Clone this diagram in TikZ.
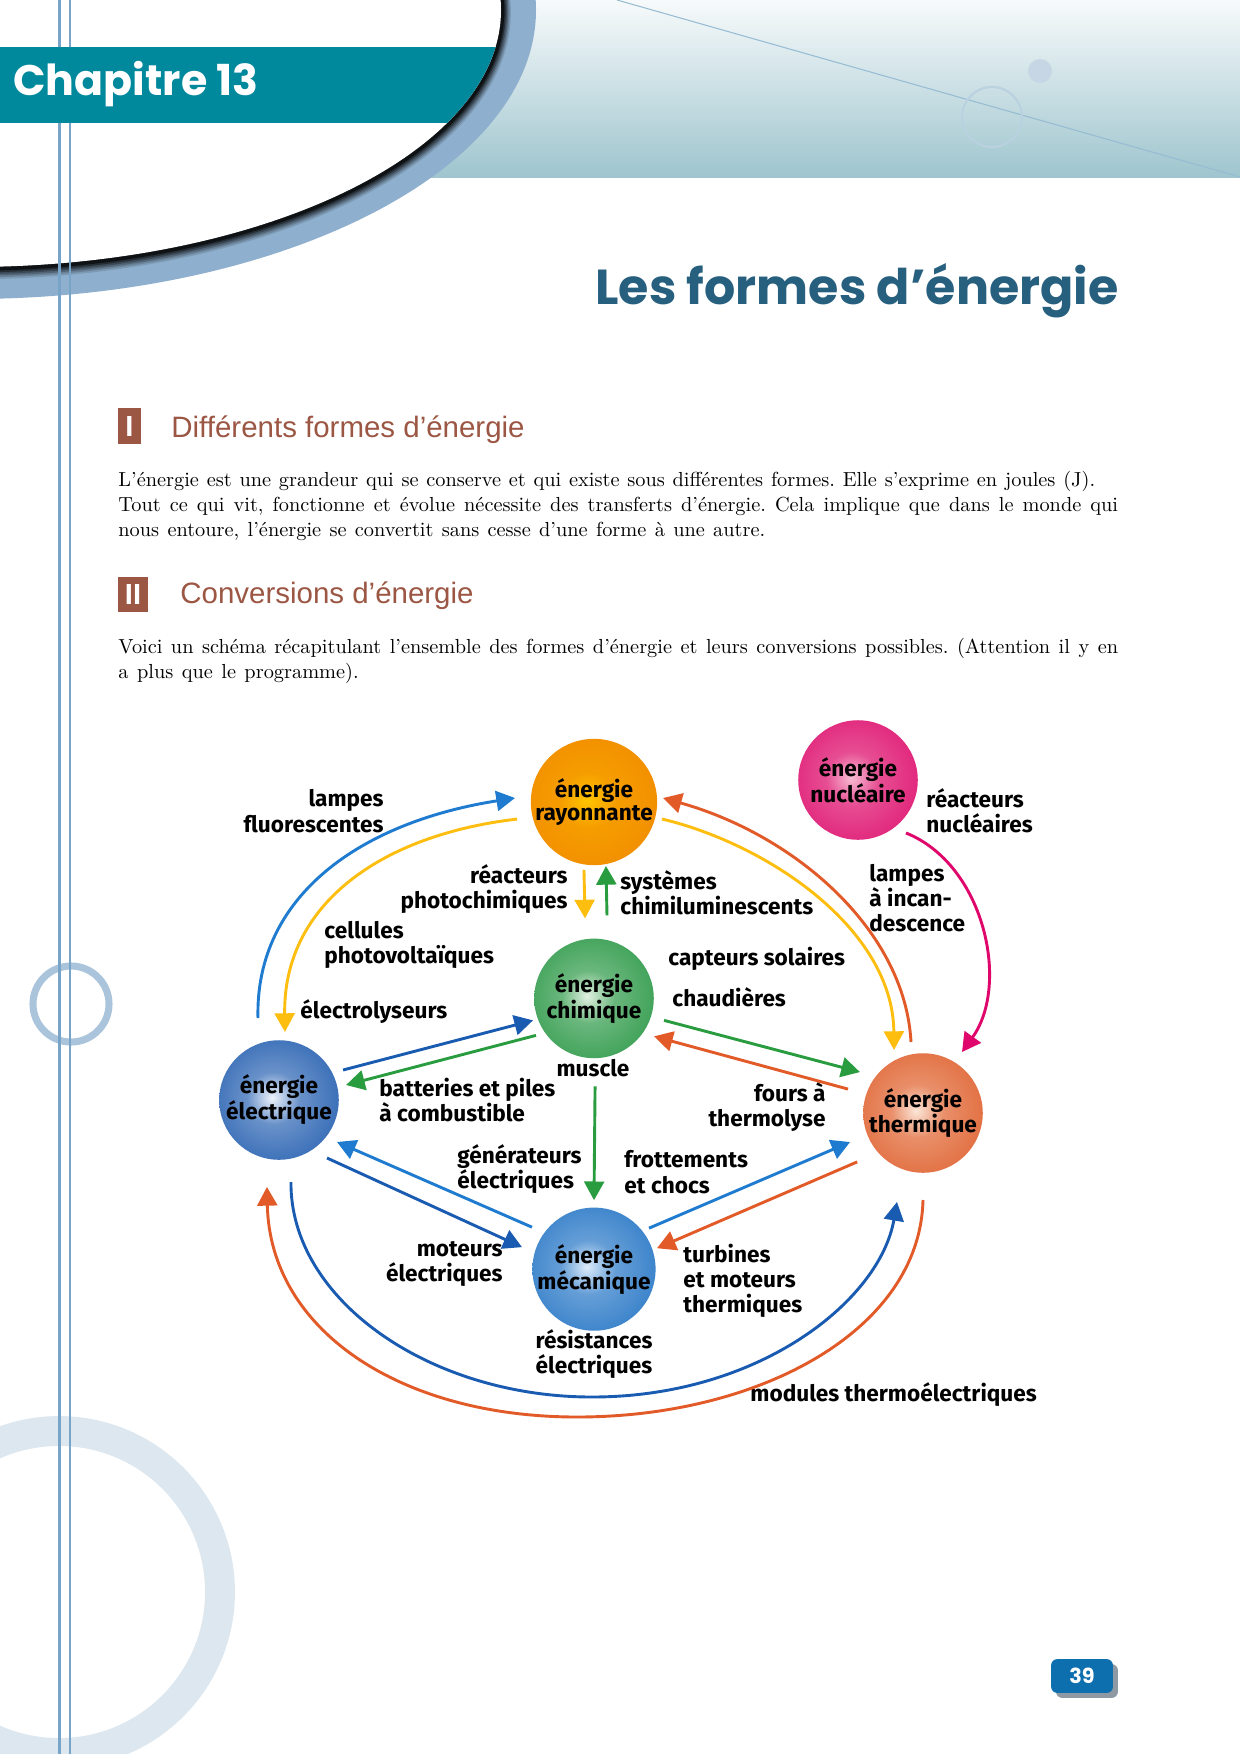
\documentclass[tikz,border=0pt]{standalone}
\usepackage{fontspec}
\usepackage{graphicx}
\usepackage{xcolor}
\usepackage{tikz}
\usetikzlibrary{arrows.meta, positioning, calc, shadows}
\newfontfamily\labfont{Fira Sans}
\newfontfamily\headfont{Poppins}
\newfontfamily\secfont{Liberation Sans}
\frenchspacing

% page colours
\definecolor{bandteal}{HTML}{00889C}
\definecolor{titleblue}{HTML}{275F7E}
\definecolor{secbrown}{HTML}{9C5744}
\definecolor{rimblue}{HTML}{8EAFCD}
\definecolor{vlineblue}{HTML}{78A4C8}
\definecolor{ringpale}{HTML}{DDE7EF}
\definecolor{ringblue}{HTML}{A9C4DB}
\definecolor{gradtop}{HTML}{F7FAFB}
\definecolor{gradbot}{HTML}{9FC5CE}
\definecolor{diagline}{HTML}{96BCD3}
\definecolor{circpale}{HTML}{B9D1E0}
\definecolor{dotpale}{HTML}{C6D6E4}
\definecolor{pageblue}{HTML}{0D6FAE}
\definecolor{shadowgray}{HTML}{8F99A3}
% arrow colours
\definecolor{blueL}{HTML}{1E7BCF}
\definecolor{blueD}{HTML}{1A5BB2}
\definecolor{yel}{HTML}{FDBE10}
\definecolor{grn}{HTML}{2A9C40}
\definecolor{redo}{HTML}{E15A27}
\definecolor{mag}{HTML}{E0076C}
% sphere colours
\definecolor{rayin}{HTML}{FFC400}\definecolor{rayout}{HTML}{EF8300}
\definecolor{nucin}{HTML}{F7BCD3}\definecolor{nucout}{HTML}{DC0468}
\definecolor{chimin}{HTML}{E2F1E2}\definecolor{chimout}{HTML}{1A9039}
\definecolor{elecin}{HTML}{EEF3FB}\definecolor{elecout}{HTML}{1050A8}
\definecolor{mecain}{HTML}{DCEBF9}\definecolor{mecaout}{HTML}{166BC0}
\definecolor{thermin}{HTML}{FCE6D8}\definecolor{thermout}{HTML}{DC5520}

\colorlet{sphin}{white}\colorlet{sphmid}{gray}\colorlet{sphout}{black}
\pgfdeclareradialshading[sphin,sphmid,sphout]{sphere}{\pgfpoint{-3bp}{1bp}}%
  {color(0bp)=(sphin); color(11bp)=(sphmid); color(42bp)=(sphout); color(50bp)=(sphout)}

\newlength{\pxu}
\setlength{\pxu}{0.16935mm}

\begin{document}
\begin{tikzpicture}[x=\pxu, y=\pxu,
  node distance=35pt,
  sphere/.style 2 args={circle, minimum size=57.6pt, inner sep=0pt, align=center,
              shading=sphere, /utils/exec={\colorlet{sphin}{#1}\colorlet{sphout}{#2}\colorlet{sphmid}{#1!40!#2}},
              font=\labfont\bfseries\fontsize{10.9pt}{11.2pt}\selectfont},
  lbl/.style={font=\labfont\bfseries\fontsize{10.9pt}{12.2pt}\selectfont, inner sep=0pt},
  lblr/.style={lbl, anchor=east, align=right},
  lbll/.style={lbl, anchor=west, align=left},
  lblc/.style={lbl, align=center},
  arr/.style={-{Triangle[length=9pt, width=9.6pt]}, line width=1.4pt},
  bodyline/.style={anchor=base west, inner sep=0pt, font=\fontsize{9.8pt}{12pt}\selectfont},
  secbox/.style={fill=secbrown, text=white, inner sep=0pt, font=\secfont\bfseries\fontsize{14pt}{16pt}\selectfont},
  sectitle/.style={anchor=base west, inner sep=0pt, text=secbrown, font=\secfont\fontsize{14.2pt}{17pt}\selectfont}
]
  \useasboundingbox (0,0) rectangle (1240,-1754);
  \fill[white] (0,0) rectangle (1240,-1754);

  % bandeau du haut
  \shade[top color=gradtop, bottom color=gradbot] (300,0) rectangle (1240,-177);
  \draw[diagline, line width=0.5pt] (617,0) -- (1240,-177);
  \draw[circpale, line width=1pt] (992,-117) circle (30);
  \fill[dotpale] (1040,-71) circle (12);
  \fill[rimblue] (-30,-10) ellipse (566 and 289);
  \foreach \k/\c in {6/88,5/74,4/58,3/42,2/26,1/10}
    \draw[rimblue!\c!black, line width=2pt] (-30,-10-0.4*\k) ellipse ({531+1.3*\k} and {257+1.3*\k});
  \fill[white] (-30,-10) ellipse (531 and 257);

  % anneaux
  \draw[ringpale, line width=14.4pt] (59,-1592) circle (161);
  \draw[ringblue, line width=3.4pt] (71,-1004) circle (38);
  \draw[vlineblue, line width=1.3pt] (59.5,0) -- (59.5,-1754);
  \draw[vlineblue, line width=1.2pt] (70,0) -- (70,-1754);

  \begin{scope}
    \clip (-30,-10) ellipse (531 and 257);
    \fill[bandteal] (0,-47) rectangle (560,-123);
  \end{scope}
  \node[anchor=base west, inner sep=0pt, text=white, font=\headfont\bfseries] (chap) at (13,-95)
    {\resizebox{118pt}{!}{Chapitre 13}};
  \node[anchor=base west, inner sep=0pt, text=titleblue, font=\headfont\bfseries] (title) at (595,-304)
    {\resizebox{252pt}{!}{Les formes d’énergie}};

  % texte
  \node[secbox, minimum width=11pt, minimum height=17.3pt] (sec1) at (129.5,-426) {I};
  \node[sectitle] (sec1t) at (171,-437) {Différents formes d’énergie};
  \node[bodyline] (p1a) at (118,-486) {\makebox[470.7pt][s]{L’énergie est une grandeur qui se conserve et qui existe sous différentes formes. Elle s’exprime en joules (J).}};
  \node[bodyline] (p1b) at (118,-511) {\makebox[481.7pt][s]{Tout ce qui vit, fonctionne et évolue nécessite des transferts d’énergie. Cela implique que dans le monde qui}};
  \node[bodyline] (p1c) at (118,-536) {\makebox[311.7pt][s]{nous entoure, l’énergie se convertit sans cesse d’une forme à une autre.}};
  \node[secbox, minimum width=14.4pt, minimum height=16.8pt] (sec2) at (133,-594.5) {II};
  \node[sectitle] (sec2t) at (180,-603) {Conversions d’énergie};
  \node[bodyline] (p2a) at (118,-653) {\makebox[481.7pt][s]{Voici un schéma récapitulant l’ensemble des formes d’énergie et leurs conversions possibles. (Attention il y en}};
  \node[bodyline] (p2b) at (118,-678) {\makebox[115.8pt][s]{a plus que le programme).}};

  % formes d'energie
  \node[sphere={rayin}{rayout}] (ray) at (594,-802) {énergie\\rayonnante};
  \node[sphere={nucin}{nucout}] (nuc) at (858,-780) {énergie\\nucléaire};
  \node[sphere={chimin}{chimout}, below=35pt of ray] (chim) {énergie\\chimique};
  \node[sphere={elecin}{elecout}] (elec) at (279,-1100) {énergie\\électrique};
  \node[sphere={mecain}{mecaout}, below=71.6pt of chim] (meca) {énergie\\mécanique};
  \node[sphere={thermin}{thermout}] (therm) at (923,-1113) {énergie\\thermique};

  % conversions
  \node[lblr] (lfluo) at (384,-811) {lampes\\fluorescentes};
  \node[lblr] (rphot) at (568,-889) {réacteurs\\photochimiques};
  \node[lbll] (schim) at (620,-893) {systèmes\\chimiluminescents};
  \node[lbll] (cpv) at (324,-945) {cellules\\photovoltaïques};
  \node[lbll] (elys) at (300,-1012) {électrolyseurs};
  \node[lbll] (capt) at (668,-959) {capteurs solaires};
  \node[lbll] (chaud) at (672,-997) {chaudières};
  \node[lblc] (musc) at (593,-1068) {muscle};
  \node[lbll] (batt) at (379,-1100) {batteries et piles\\à combustible};
  \node[lblr] (fours) at (826,-1107) {fours à\\thermolyse};
  \node[lbll] (gen) at (457,-1169) {générateurs\\électriques};
  \node[lbll] (frot) at (624,-1172) {frottements\\et chocs};
  \node[lblr] (mot) at (503,-1264) {moteurs\\électriques};
  \node[lbll] (turb) at (683,-1281) {turbines\\et moteurs\\thermiques};
  \node[lblc] (res) at (594,-1354) {résistances\\électriques};
  \node[lbll] (modu) at (750,-1395) {modules thermoélectriques};
  \node[lbll] (rnuc) at (926,-811) {réacteurs\\nucléaires};
  \node[lbll] (linc) at (869,-898) {lampes\\à incan-\\descence};

  % fleches courbes
  \draw[arr, blueL] ($(elec)+(104.4:84.6)$) .. controls (255,-895) and (362,-822) .. ($(ray)+(177.1:79.1)$);
  \draw[arr, yel] ($(ray)+(192.5:78.9)$) .. controls (380,-835) and (283,-905) .. ($(elec)+(85:68.3)$);
  \draw[arr, redo] ($(therm)+(99.6:72)$) .. controls (905,-930) and (795,-835) .. ($(ray)+(3.3:69.1)$);
  \draw[arr, yel] ($(ray)+(-14:70.1)$) .. controls (770,-845) and (893,-930) .. ($(therm)+(114.7:69.4)$);
  \draw[arr, mag] ($(nuc)+(-47.8:71.5)$) .. controls (985,-865) and (1010,-985) .. ($(therm)+(57.4:72.4)$);
  \draw[arr, blueD] ($(elec)+(-81.7:82.9)$) .. controls (290,-1300) and (430,-1397) .. (592,-1397)
    .. controls (760,-1397) and (880,-1300) .. ($(therm)+(253.7:92.7)$);
  \draw[arr, redo] ($(therm)+(-90:87)$) .. controls (920,-1330) and (760,-1417) .. (577,-1417)
    .. controls (400,-1417) and (270,-1330) .. ($(elec)+(262.1:87.8)$);

  % fleches droites
  \draw[arr, yel] ($(ray)+(261.6:68.7)$) -- ($(chim)+(96.4:80.5)$);
  \draw[arr, grn] ($(chim)+(81.1:84)$) -- ($(ray)+(-79.4:65.1)$);
  \draw[arr, blueD] ($(elec)+(25.1:70.7)$) -- ($(chim)+(199.8:64.8)$);
  \draw[arr, grn] ($(chim)+(212.5:68.8)$) -- ($(elec)+(12.6:68.7)$);
  \draw[arr, grn] ($(chim)+(-17.4:73.4)$) -- ($(therm)+(147:75.2)$);
  \draw[arr, redo] ($(therm)+(162.3:78.7)$) -- ($(chim)+(-32.3:71)$);
  \draw[arr, grn] ($(chim)+(-89.3:88)$) -- ($(meca)+(90:69)$);
  \draw[arr, blueL] ($(meca)+(36.7:68.6)$) -- ($(therm)+(201.7:78.5)$);
  \draw[arr, redo] ($(therm)+(216.6:82)$) -- ($(meca)+(18.4:66.4)$);
  \draw[arr, blueL] ($(meca)+(145.9:74.9)$) -- ($(elec)+(-35.9:71.6)$);
  \draw[arr, blueD] ($(elec)+(-50.4:75.3)$) -- ($(meca)+(163:75.3)$);

  % numero de page
  \node[fill=pageblue, text=white, rounded corners=3pt, minimum width=29.8pt, minimum height=16.3pt,
        inner sep=0pt, font=\headfont\bfseries\fontsize{10pt}{12pt}\selectfont,
        drop shadow={shadow xshift=2.4pt, shadow yshift=-2.4pt, fill=shadowgray, opacity=1}] (pnum) at (1082,-1676) {39};
\end{tikzpicture}
\end{document}
